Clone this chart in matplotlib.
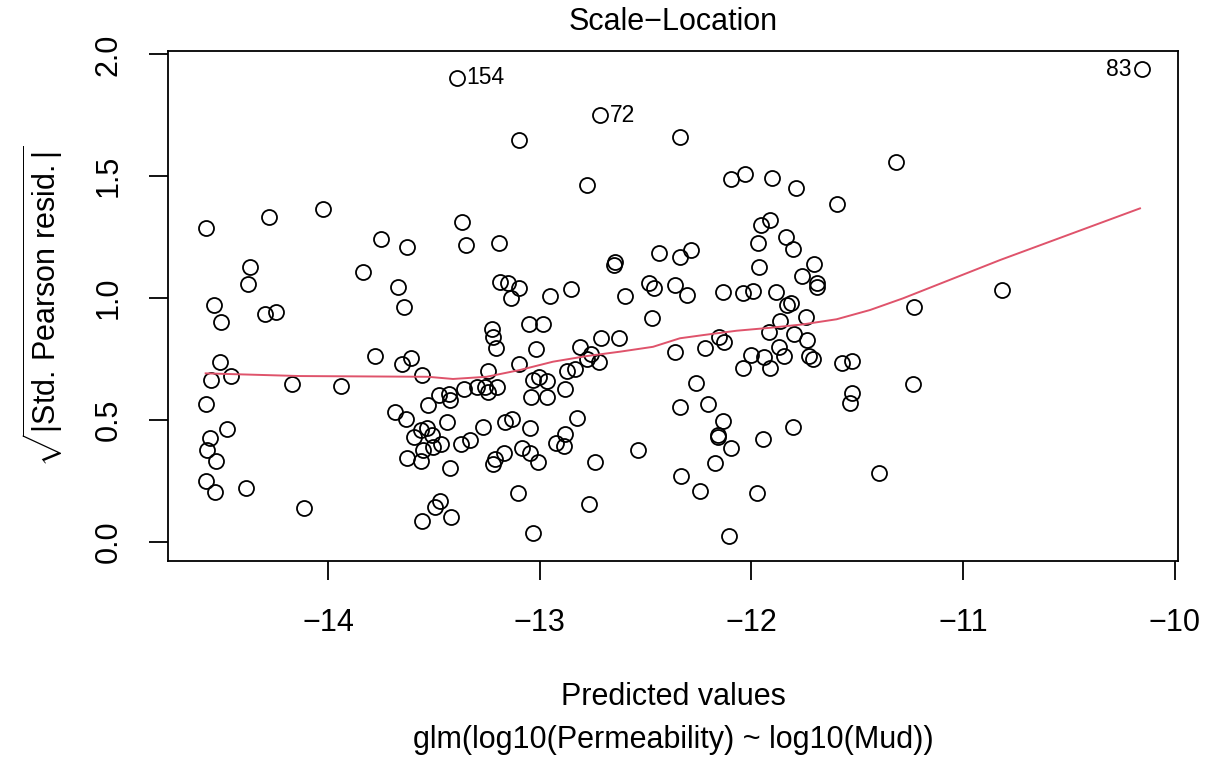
import matplotlib
matplotlib.use("Agg")
import matplotlib.pyplot as plt

plt.rcParams['font.family'] = ['Liberation Sans', 'DejaVu Sans']
plt.rcParams['mathtext.fontset'] = 'custom'
plt.rcParams['mathtext.rm'] = 'Liberation Sans'
plt.rcParams['mathtext.it'] = 'Liberation Sans:italic'

# fitted values and sqrt(|standardized Pearson residuals|)
fitted = [
    -14.578, -14.540, -14.504, -14.509, -14.554, -14.457, -14.578, -14.477, -14.556, -14.573,
    -14.528, -14.578, -14.532, -14.387, -14.279, -14.370, -14.376, -14.298, -14.244, -14.170,
    -14.113, -14.025, -13.937, -13.835, -13.751, -13.779, -13.685, -13.669, -13.641, -13.626,
    -13.633, -13.649, -13.607, -13.628, -13.594, -13.562, -13.559, -13.556, -13.556, -13.528,
    -13.532, -13.510, -13.466, -13.506, -13.553, -13.476, -13.427, -13.424, -13.356, -13.298,
    -13.259, -13.243, -13.203, -13.439, -13.267, -13.164, -13.130, -13.046, -12.823, -13.372,
    -13.329, -13.422, -13.211, -13.219, -13.167, -13.082, -13.046, -13.007, -12.923, -12.881,
    -12.885, -12.739, -13.101, -12.769, -13.471, -13.495, -13.418, -13.030, -13.041, -12.964,
    -12.881, -13.392, -12.715, -13.099, -12.778, -13.366, -13.350, -13.194, -13.186, -13.151,
    -13.098, -13.134, -12.953, -12.851, -12.645, -12.648, -13.051, -12.985, -13.227, -13.219,
    -13.205, -13.016, -12.711, -12.626, -12.809, -12.759, -12.778, -12.720, -13.097, -13.243,
    -12.871, -12.832, -13.030, -13.004, -12.964, -12.338, -11.318, -12.097, -12.031, -11.905,
    -11.790, -11.595, -11.957, -11.913, -11.971, -11.837, -12.338, -12.287, -12.435, -11.805,
    -11.965, -11.705, -11.760, -11.689, -11.689, -12.485, -12.459, -12.597, -12.361, -12.306,
    -12.136, -12.039, -11.994, -11.884, -11.834, -11.815, -11.744, -11.865, -11.917, -11.798,
    -11.739, -12.153, -12.130, -12.220, -12.361, -12.468, -12.004, -11.940, -11.869, -11.847,
    -11.728, -11.711, -12.042, -11.913, -11.574, -11.524, -11.233, -12.262, -11.236, -11.525,
    -11.533, -12.338, -12.204, -12.133, -11.803, -12.157, -12.157, -12.097, -11.944, -12.172,
    -12.333, -12.243, -11.975, -11.396, -12.106, -10.818, -10.157, -12.537,
]
sqrt_resid = [
    1.289, 0.970, 0.903, 0.737, 0.664, 0.682, 0.565, 0.462, 0.424, 0.376,
    0.332, 0.250, 0.204, 0.222, 1.334, 1.126, 1.057, 0.934, 0.943, 0.647,
    0.137, 1.364, 0.640, 1.107, 1.241, 0.762, 0.533, 1.046, 0.962, 1.208,
    0.502, 0.730, 0.753, 0.345, 0.431, 0.332, 0.458, 0.684, 0.086, 0.561,
    0.467, 0.438, 0.401, 0.390, 0.376, 0.602, 0.606, 0.581, 0.625, 0.634,
    0.634, 0.616, 0.636, 0.492, 0.472, 0.492, 0.502, 0.465, 0.509, 0.401,
    0.417, 0.301, 0.338, 0.319, 0.365, 0.386, 0.363, 0.328, 0.406, 0.442,
    0.393, 0.328, 0.199, 0.153, 0.167, 0.144, 0.100, 0.034, 0.595, 0.595,
    0.627, 1.904, 1.751, 1.648, 1.462, 1.313, 1.217, 1.227, 1.067, 1.060,
    1.040, 1.000, 1.009, 1.038, 1.146, 1.137, 0.893, 0.895, 0.873, 0.839,
    0.794, 0.792, 0.835, 0.835, 0.798, 0.770, 0.748, 0.737, 0.728, 0.700,
    0.700, 0.709, 0.664, 0.677, 0.661, 1.659, 1.557, 1.487, 1.509, 1.491,
    1.450, 1.387, 1.300, 1.320, 1.224, 1.249, 1.169, 1.197, 1.183, 1.200,
    1.128, 1.140, 1.090, 1.063, 1.046, 1.060, 1.041, 1.007, 1.053, 1.012,
    1.023, 1.019, 1.029, 1.023, 0.971, 0.981, 0.923, 0.907, 0.862, 0.852,
    0.828, 0.841, 0.818, 0.794, 0.780, 0.919, 0.766, 0.758, 0.798, 0.762,
    0.762, 0.748, 0.714, 0.714, 0.732, 0.741, 0.963, 0.650, 0.647, 0.611,
    0.570, 0.551, 0.564, 0.497, 0.472, 0.438, 0.428, 0.386, 0.420, 0.322,
    0.271, 0.209, 0.201, 0.283, 0.025, 1.033, 1.938, 0.376,
]

# lowess smoother through the points
smooth_x = [-14.578, -14.132, -13.528, -13.410, -13.251, -13.093, -12.937, -12.778, -12.621,
            -12.465, -12.338, -12.229, -12.070, -11.913, -11.757, -11.598, -11.440, -11.284,
            -10.826, -10.165]
smooth_y = [0.691, 0.680, 0.677, 0.668, 0.677, 0.705, 0.739, 0.762, 0.780,
            0.800, 0.835, 0.848, 0.866, 0.878, 0.892, 0.913, 0.951, 0.999,
            1.156, 1.368]

# observations flagged with their index
id_labels = ['154', '72', '83']
id_x = [-13.392, -12.715, -10.157]
id_y = [1.904, 1.751, 1.938]
id_side = ['right', 'right', 'left']

fig = plt.figure(figsize=(12.12, 7.6), dpi=100)
ax = fig.add_axes([0.1386, 0.2618, 0.8336, 0.6715])

ax.plot(fitted, sqrt_resid, linestyle='none', marker='o', ms=10.8, mfc='none',
        mec='black', mew=1.3)
ax.plot(smooth_x, smooth_y, color='#DF536B', lw=1.4)

for lab, x, y, side in zip(id_labels, id_x, id_y, id_side):
    if side == 'right':
        ax.annotate(lab, (x, y), xytext=(7, 0), textcoords='offset points',
                    ha='left', va='center', fontsize=16.5)
    else:
        ax.annotate(lab, (x, y), xytext=(-7, 0), textcoords='offset points',
                    ha='right', va='center', fontsize=16.5)

ax.set_xlim(-14.756, -9.984)
ax.set_ylim(-0.079, 2.015)
ax.set_xticks([-14, -13, -12, -11, -10])
ax.set_yticks([0.0, 0.5, 1.0, 1.5, 2.0])
ax.set_yticklabels(['0.0', '0.5', '1.0', '1.5', '2.0'], rotation=90, va='center')
ax.tick_params(axis='both', labelsize=22, length=14, width=1.3, color='black')
ax.tick_params(axis='x', pad=20)
ax.tick_params(axis='y', pad=18)
for sp in ax.spines.values():
    sp.set_linewidth(1.3)
    sp.set_color('black')

fig.text(0.5553, 0.971, 'Scale\u2212Location', ha='center', va='center', fontsize=22)
fig.text(0.5553, 0.0829, 'Predicted values', ha='center', va='center', fontsize=22)
fig.text(0.5553, 0.0263, 'glm(log10(Permeability) ~ log10(Mud))', ha='center',
         va='center', fontsize=22)
fig.text(0.0347, 0.597, r'$\sqrt{|\mathrm{Std.\,Pearson\ resid.}|}$', rotation=90,
         ha='center', va='center', fontsize=22)

fig.savefig('out.png', dpi=100)
